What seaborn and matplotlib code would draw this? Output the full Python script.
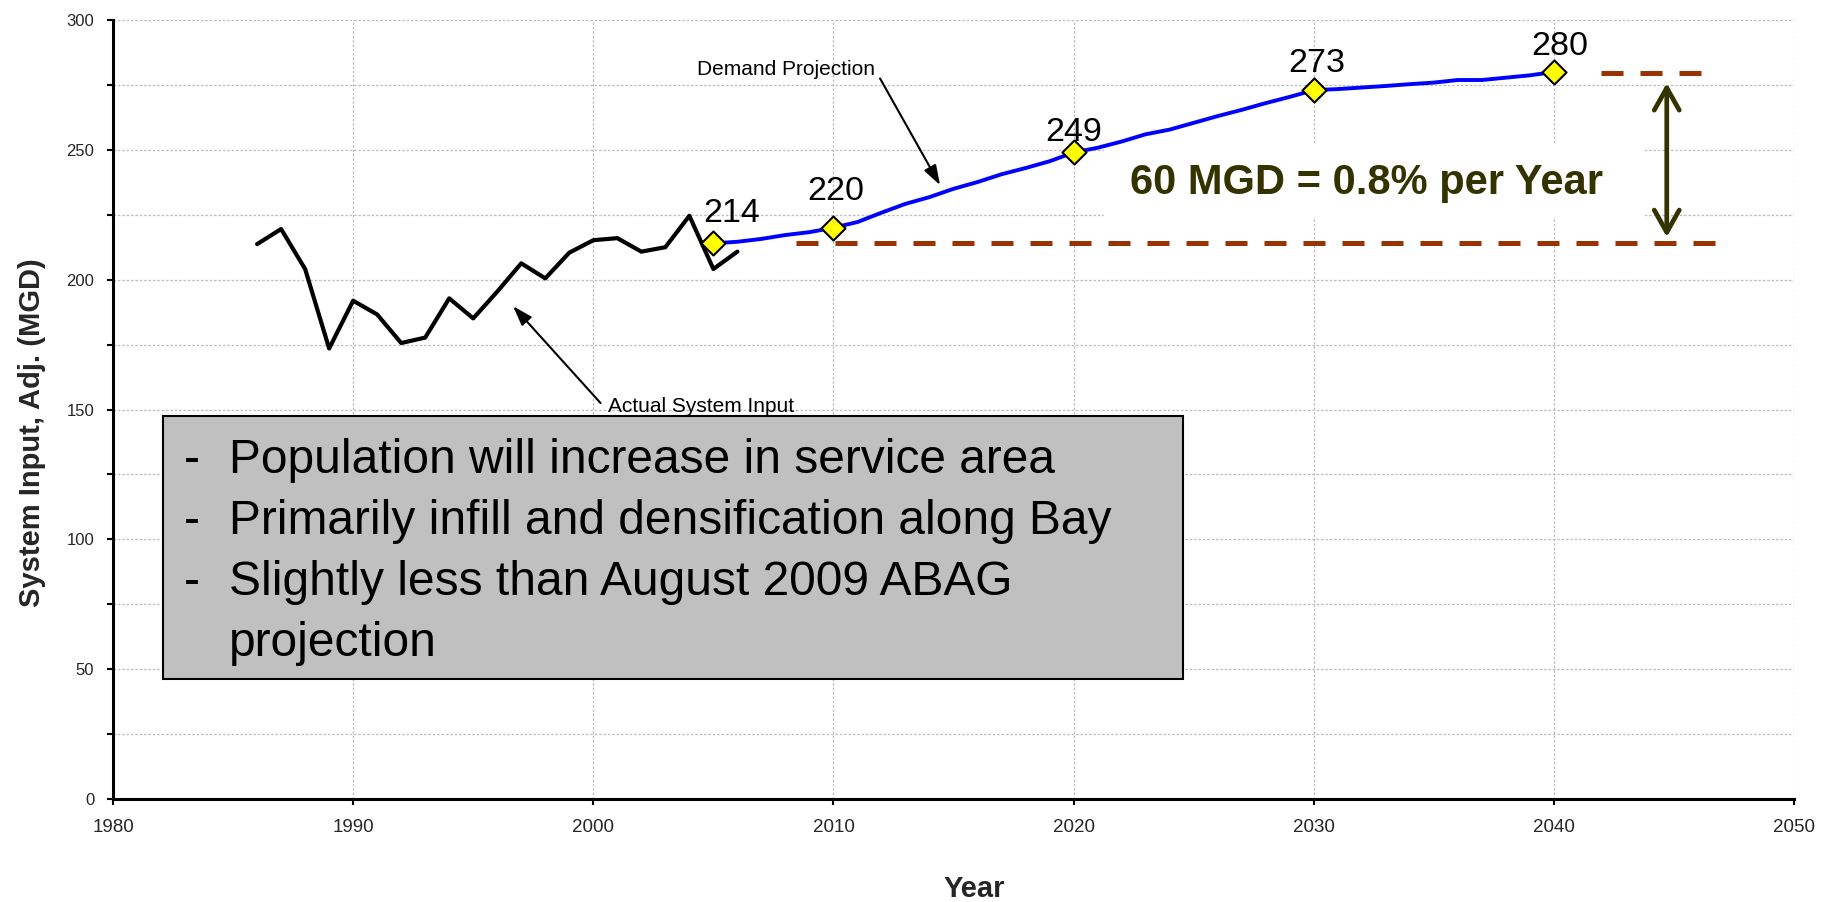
import matplotlib
matplotlib.use("Agg")
import matplotlib.pyplot as plt
import numpy as np
import pandas as pd
import seaborn as sns
from matplotlib.patches import Rectangle

# ---- data -------------------------------------------------------------
# Actual system input, adjusted (MGD)
actual_years = list(range(1986, 2007))
actual_mgd = [213.7, 219.5, 204.1, 173.5, 191.9, 186.6, 175.6, 177.7, 192.8, 185.1,
              195.4, 206.3, 200.5, 210.4, 215.2, 216.0, 210.8, 212.5, 224.6, 204.1,
              210.8]

# Demand projection (MGD)
proj_years = list(range(2005, 2041))
proj_mgd = [214.0, 214.6, 215.7, 217.2, 218.3, 220.0, 222.2, 225.8, 229.2, 231.8,
            235.0, 237.6, 240.6, 243.0, 245.6, 249.0, 250.8, 253.2, 256.0, 257.8,
            260.4, 263.0, 265.4, 268.0, 270.4, 273.0, 273.4, 274.0, 274.6, 275.3,
            275.9, 276.9, 276.9, 277.8, 278.7, 280.0]

# Labelled milestones on the projection
milestone_years = [2005, 2010, 2020, 2030, 2040]
milestone_mgd = [214, 220, 249, 273, 280]

# Reference levels for the growth bracket
base_level = 214.0
end_level = 279.5
growth_text = "60 MGD = 0.8% per Year"

bullets = ["Population will increase in service area",
           "Primarily infill and densification along Bay",
           "Slightly less than August 2009 ABAG",
           "projection"]

x_ticks = list(range(1980, 2051, 10))
y_ticks = list(range(0, 301, 25))

# ---- style ------------------------------------------------------------
sns.set_theme(style="white")
plt.rcParams["font.family"] = ["Liberation Sans", "DejaVu Sans"]

olive = "#333300"
rust = "#993300"

fig = plt.figure(figsize=(18.3, 9.02), dpi=100)
ax = fig.add_axes([0.06175, 0.1142, 0.9186, 0.8636])

actual = pd.DataFrame({"year": actual_years, "mgd": actual_mgd})
proj = pd.DataFrame({"year": proj_years, "mgd": proj_mgd})
marks = pd.DataFrame({"year": milestone_years, "mgd": milestone_mgd})

sns.lineplot(data=actual, x="year", y="mgd", ax=ax, color="black", lw=3.0, zorder=3)
sns.lineplot(data=proj, x="year", y="mgd", ax=ax, color="#0000FF", lw=2.8, zorder=3)
sns.scatterplot(data=marks, x="year", y="mgd", ax=ax, marker="D", s=150,
                color="#FFFF00", edgecolor="black", linewidth=1.5, zorder=4)

# value labels above the milestone markers (offsets in points)
label_offsets = [(13, 15.5), (2, 20), (0, 8.5), (2, 12.7), (4, 12)]
for yr, val, (dx, dy) in zip(milestone_years, milestone_mgd, label_offsets):
    ax.annotate(f"{val:d}", xy=(yr, val), xytext=(dx, dy), textcoords="offset points",
                ha="center", va="baseline", fontsize=24.5, color="black", zorder=5)

# growth bracket: dashed reference lines and double arrow
sns.lineplot(x=[2008.45, 2047.14], y=[base_level, base_level], ax=ax, color=rust,
             lw=3.6, linestyle=(0, (4.4, 3.4)), zorder=2)
sns.lineplot(x=[2041.96, 2046.79], y=[end_level, end_level], ax=ax, color=rust,
             lw=3.6, linestyle=(0, (4.4, 3.4)), zorder=2)
ax.annotate("", xy=(2044.7, end_level - 3.8), xytext=(2044.7, base_level + 2.4),
            arrowprops=dict(arrowstyle="<->,head_length=0.8,head_width=0.45",
                            mutation_scale=20, lw=3.4, color=olive,
                            shrinkA=0, shrinkB=0, capstyle="round", joinstyle="round"),
            zorder=4)
ax.add_patch(Rectangle((2021.27, 224.1), 22.53, 27.7, facecolor="white",
                       edgecolor="none", zorder=1.2))
ax.text(2032.2, 237.2, growth_text, ha="center", va="center", fontsize=30,
        fontweight="bold", color=olive, zorder=5)

# series call-outs
ax.text(2004.32, 278.8, "Demand Projection", ha="left", va="baseline",
        fontsize=15, color="black", zorder=5)
ax.annotate("", xy=(2014.44, 236.4), xytext=(2011.94, 277.5),
            arrowprops=dict(arrowstyle="-|>,head_length=0.6,head_width=0.2",
                            mutation_scale=20, lw=1.5, color="black",
                            shrinkA=0, shrinkB=0), zorder=5)
ax.text(2000.6, 149.0, "Actual System Input", ha="left", va="baseline",
        fontsize=15, color="black", zorder=5)
ax.annotate("", xy=(1996.66, 189.8), xytext=(2000.3, 152.5),
            arrowprops=dict(arrowstyle="-|>,head_length=0.6,head_width=0.2",
                            mutation_scale=20, lw=1.5, color="black",
                            shrinkA=0, shrinkB=0), zorder=5)

# grey notes box
ax.add_patch(Rectangle((1982.08, 46.2), 42.49, 101.3, facecolor="#C0C0C0",
                       edgecolor="black", lw=1.5, zorder=6))
first_baseline = 125.4
line_step = 23.5
for i, line in enumerate(bullets):
    yb = first_baseline - i * line_step
    if i < 3:
        ax.text(1982.95, yb, "-", ha="left", va="baseline", fontsize=34.5,
                color="black", zorder=7)
    ax.text(1984.83, yb, line, ha="left", va="baseline", fontsize=34.5,
            color="black", zorder=7)

# ---- axes -------------------------------------------------------------
ax.set_xlim(1980, 2050)
ax.set_ylim(0, 300)
ax.set_xticks(x_ticks)
ax.set_xticklabels([str(v) for v in x_ticks], fontsize=13.5)
ax.set_yticks(y_ticks)
ax.set_yticklabels([str(v) if v % 50 == 0 else "" for v in y_ticks], fontsize=12)
ax.tick_params(axis="x", direction="out", length=4.5, width=1.5, color="black",
               bottom=True, pad=10)
ax.tick_params(axis="y", direction="out", length=4.5, width=1.5, color="black",
               left=True, pad=9)

ax.set_axisbelow(True)
ax.grid(True, color="#BDBDBD", lw=0.9, linestyle=(0, (2, 1.5)))
for side in ("top", "right"):
    ax.spines[side].set_visible(False)
for side in ("left", "bottom"):
    ax.spines[side].set_color("black")
    ax.spines[side].set_linewidth(2.2)

ax.set_xlabel("Year", fontsize=21, fontweight="bold", va="center")
ax.xaxis.set_label_coords(0.5122, -0.1155)
ax.set_ylabel("System Input, Adj. (MGD)", fontsize=21, fontweight="bold", va="center")
ax.yaxis.set_label_coords(-0.0482, 0.4698)

fig.savefig("out.png", dpi=100)
